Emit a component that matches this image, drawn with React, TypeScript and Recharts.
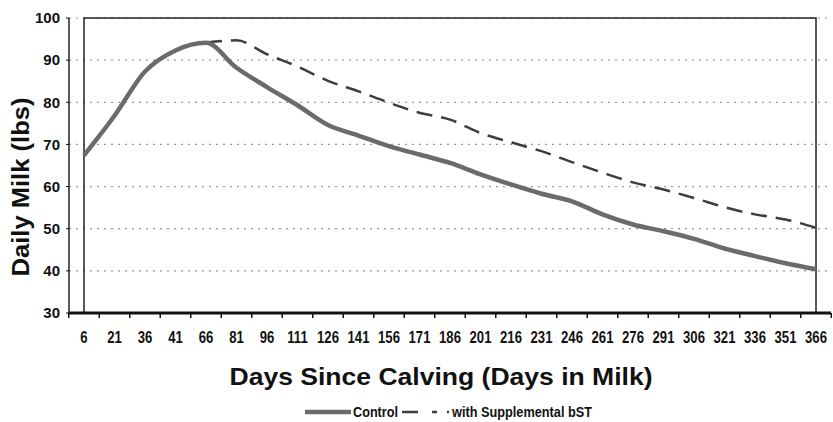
import {
  LineChart,
  Line,
  XAxis,
  YAxis,
  CartesianGrid,
  ReferenceArea,
} from "recharts";

// days in milk (category labels as printed on the axis)
const days = [
  "6", "21", "36", "41", "66", "81", "96", "111", "126", "141", "156", "171", "186",
  "201", "216", "231", "246", "261", "276", "291", "306", "321", "336", "351", "366",
];

// daily milk, lbs
const control = [
  67.4, 76.8, 87.3, 92.3, 94.1, 88.2, 83.6, 79.3, 74.6, 72.1, 69.6, 67.6, 65.6,
  62.9, 60.5, 58.3, 56.5, 53.4, 51.0, 49.4, 47.6, 45.3, 43.5, 41.8, 40.4,
];
const withBst = [
  null, null, null, null, 94.2, 94.7, 91.4, 88.5, 85.1, 82.6, 79.9, 77.5, 75.9,
  72.7, 70.5, 68.4, 65.8, 63.3, 61.0, 59.3, 57.3, 55.1, 53.4, 52.2, 50.2,
];

const yTicks = [30, 40, 50, 60, 70, 80, 90, 100];

const SERIES_NAMES = { control: "Control", bst: "with Supplemental bST" };

const rows = days.map((d, i) => ({ day: d, control: control[i], bst: withBst[i] }));

const FONT = "'Liberation Sans', Arial, Helvetica, sans-serif";
const HALF_BAND = 15.25;

function DayTick(props: any) {
  const { x, y, payload, index } = props;
  return (
    <g>
      <line x1={x - HALF_BAND} y1={y} x2={x - HALF_BAND} y2={y + 5} stroke="#111" strokeWidth={1.5} />
      {index === days.length - 1 && (
        <line x1={x + HALF_BAND} y1={y} x2={x + HALF_BAND} y2={y + 5} stroke="#111" strokeWidth={1.5} />
      )}
      {/* squeezed horizontally, the source uses a condensed face */}
      <text
        transform={`translate(${x}, ${y + 30}) scale(0.82, 1)`}
        textAnchor="middle"
        fontFamily={FONT}
        fontWeight="bold"
        fontSize={16}
        fill="#111"
      >
        {payload.value}
      </text>
    </g>
  );
}

function XTitle(props: any) {
  const { x, width } = props.viewBox;
  return (
    <text
      x={x + width / 2 - 9}
      y={385}
      textAnchor="middle"
      fontFamily={FONT}
      fontWeight="bold"
      fontSize={24}
      fill="#111"
      textLength={423}
      lengthAdjust="spacingAndGlyphs"
    >
      Days Since Calving (Days in Milk)
    </text>
  );
}

function YTitle() {
  return (
    <text
      x={29}
      y={187}
      transform="rotate(-90, 29, 187)"
      textAnchor="middle"
      fontFamily={FONT}
      fontWeight="bold"
      fontSize={24}
      fill="#111"
      textLength={179}
      lengthAdjust="spacingAndGlyphs"
    >
      Daily Milk (lbs)
    </text>
  );
}

function LegendRow() {
  const txt = { fontFamily: FONT, fontWeight: "bold" as const, fontSize: 14, fill: "#111", lengthAdjust: "spacingAndGlyphs" };
  return (
    <svg width={420} height={20} style={{ position: "absolute", left: 303, top: 402 }}>
      <line x1={2} y1={10} x2={48} y2={10} stroke="#6b6b6b" strokeWidth={4.5} />
      <text x={50} y={15} textLength={45} {...txt}>{SERIES_NAMES.control}</text>
      <line x1={99} y1={10} x2={115} y2={10} stroke="#3d3d3d" strokeWidth={2.5} />
      <line x1={129} y1={10} x2={134} y2={10} stroke="#3d3d3d" strokeWidth={2.5} />
      <line x1={144} y1={10} x2={146} y2={10} stroke="#3d3d3d" strokeWidth={2.5} />
      <text x={149} y={15} textLength={140} {...txt}>{SERIES_NAMES.bst}</text>
    </svg>
  );
}

export default function App() {
  return (
    <div style={{ position: "absolute", left: 0, top: 0, width: 833, height: 422, background: "#fff", overflow: "hidden" }}>
      <LineChart width={833} height={422} data={rows} margin={{ top: 18, right: 2, left: 0, bottom: 0 }}>
        <CartesianGrid vertical={false} stroke="#999" strokeDasharray="2 5" strokeWidth={1.2} />
        <ReferenceArea y1={30} y2={100} fill="none" stroke="#222" strokeWidth={1.5} ifOverflow="visible" />
        <XAxis
          dataKey="day"
          interval={0}
          padding={{ left: 15, right: 15 }}
          height={109}
          tickLine={false}
          tickSize={0}
          tickMargin={0}
          axisLine={{ stroke: "#111", strokeWidth: 3 }}
          tick={<DayTick />}
          label={<XTitle />}
        />
        <YAxis
          domain={[30, 100]}
          ticks={yTicks}
          width={69}
          tickSize={3}
          tickMargin={6}
          tickLine={{ stroke: "#111" }}
          axisLine={{ stroke: "#222", strokeWidth: 1.5 }}
          tick={{ fontFamily: FONT, fontWeight: "bold", fontSize: 15, fill: "#111" }}
          label={<YTitle />}
        />
        <Line
          type="monotone"
          dataKey="bst"
          name={SERIES_NAMES.bst}
          stroke="#3d3d3d"
          strokeWidth={2.5}
          strokeDasharray="16 9"
          dot={false}
          isAnimationActive={false}
        />
        <Line
          type="monotone"
          dataKey="control"
          name={SERIES_NAMES.control}
          stroke="#6b6b6b"
          strokeWidth={4.5}
          dot={false}
          isAnimationActive={false}
        />
      </LineChart>
      <LegendRow />
    </div>
  );
}
